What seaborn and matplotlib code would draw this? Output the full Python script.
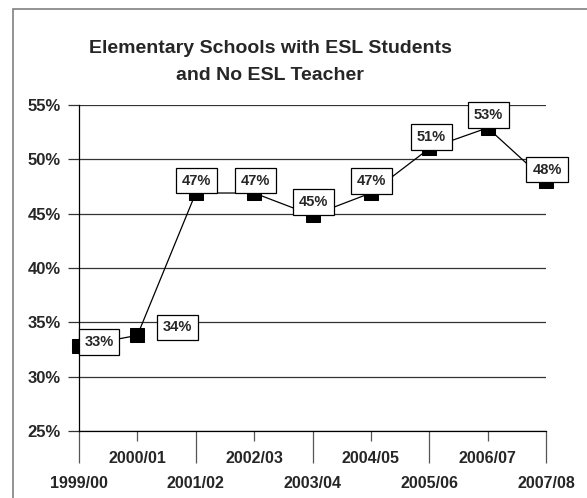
import numpy as np
import matplotlib
matplotlib.use('Agg')
import matplotlib.pyplot as plt
import matplotlib.patches as mpatches
import seaborn as sns
import pandas as pd

# ── Data ─────────────────────────────────────────────────────
years = ['1999/00', '2000/01', '2001/02', '2002/03', '2003/04',
         '2004/05', '2005/06', '2006/07', '2007/08']
pct_no_esl_teacher = [32.8, 33.8, 46.9, 46.9, 44.85, 46.9, 51.0, 52.9, 48.0]
point_labels = ['33%', '34%', '47%', '47%', '45%', '47%', '51%', '53%', '48%']
y_ticks = [25, 30, 35, 40, 45, 50, 55]

# label box offsets (pixels) from each marker
label_offsets = [(20, 4), (40, 8), (1, 12.5), (1, 12.5), (1, 13),
                 (1, 12), (2, 11.5), (1, 13), (1, 11.5)]

sns.set_style('white')
plt.rcParams['font.family'] = ['Liberation Sans', 'DejaVu Sans']
plt.rcParams['font.weight'] = 'bold'

df = pd.DataFrame({'pos': np.arange(len(years)), 'pct': pct_no_esl_teacher})

fig = plt.figure(figsize=(5.87, 4.98), dpi=100)
ax = fig.add_axes([79 / 587, 1 - 431 / 498, (546 - 79) / 587, (431 - 105) / 498])

sns.lineplot(data=df, x='pos', y='pct', ax=ax, color='black', linewidth=0.9,
             marker='s', markersize=9.5, markeredgecolor='black',
             markerfacecolor='black', zorder=3, clip_on=False)

for xp, yv, lab, off in zip(df['pos'], df['pct'], point_labels, label_offsets):
    ax.annotate(lab, (xp, yv), xytext=off, textcoords='offset pixels',
                ha='center', va='center', fontsize=10.5, fontweight='bold',
                zorder=5, annotation_clip=False,
                bbox=dict(boxstyle='square,pad=0.4', fc='white', ec='black', lw=0.9))

ax.set_xlim(0, len(years) - 1)
ax.set_ylim(25, 55)
ax.set_yticks(y_ticks)
ax.set_yticklabels([f'{v}%' for v in y_ticks], fontsize=12, fontweight='bold')
ax.yaxis.grid(True, color='#333333', linewidth=0.9)
ax.set_axisbelow(True)

pos = np.arange(len(years))
ax.set_xticks(pos[::2], [years[i] for i in pos[::2]])
ax.set_xticks(pos[1::2], [years[i] for i in pos[1::2]], minor=True)
ax.tick_params(axis='x', which='major', bottom=True, length=23, width=0.9,
               color='#555555', pad=9.5, labelsize=11.5)
ax.tick_params(axis='x', which='minor', bottom=True, length=7.2, width=0.9,
               color='#555555', pad=7.5, labelsize=11.5)
ax.tick_params(axis='y', left=True, length=8, width=0.9, color='#333333', pad=5)
for t in ax.get_xticklabels(minor=True) + ax.get_xticklabels():
    t.set_fontweight('bold')

ax.set_xlabel('')
ax.set_ylabel('')
for s in ['top', 'right']:
    ax.spines[s].set_visible(False)
for s in ['left', 'bottom']:
    ax.spines[s].set_color('black')
    ax.spines[s].set_linewidth(0.9)

fig.text(270 / 587, 1 - 62 / 498,
         'Elementary Schools with ESL Students\nand No ESL Teacher',
         ha='center', va='center', fontsize=14, fontweight='bold',
         linespacing=1.8)

border = mpatches.Rectangle((13 / 587, -0.2), 2, 0.2 + 1 - 9 / 498,
                            transform=fig.transFigure, fill=False,
                            ec='#808080', lw=1.2)
fig.add_artist(border)

fig.savefig('out.png', dpi=100)
